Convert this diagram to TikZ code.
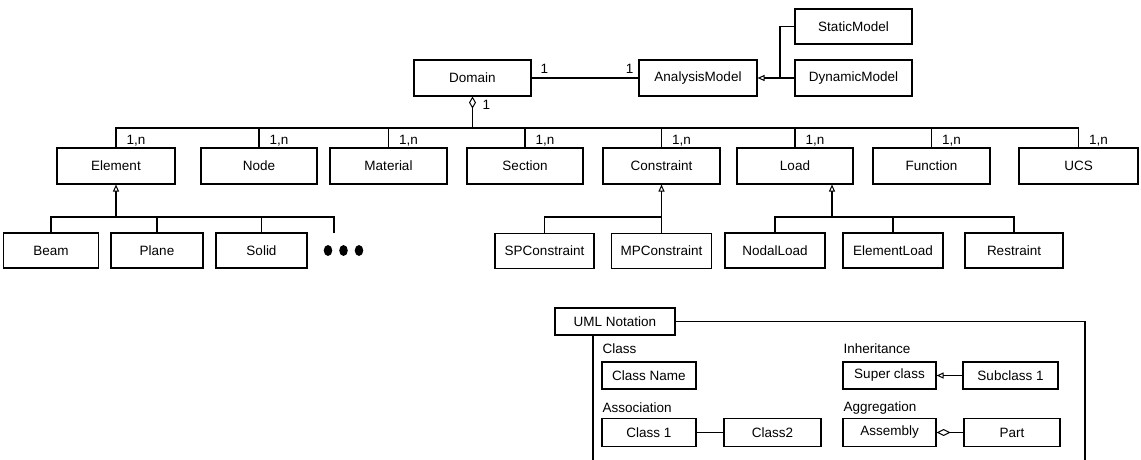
\documentclass[tikz,border=0pt]{standalone}
\usepackage{fontspec}
\setmainfont{Liberation Sans}
\usetikzlibrary{arrows.meta}
\begin{document}
\begin{tikzpicture}[x=1pt,y=-1pt,line width=1.1pt,
  cls/.style={draw,rectangle,inner sep=0pt,minimum height=36pt,font=\fontsize{13.5}{16}\selectfont},
  sub/.style={cls,minimum height=35pt},
  lbl/.style={inner sep=0pt,font=\fontsize{13.5}{16}\selectfont},
  inh/.style={-{Triangle[open,length=7pt,width=6pt,line width=1pt]}},
  agg/.style={-{Diamond[open,length=12pt,width=7pt,line width=1pt]}},
  aggh/.style={-{Diamond[open,length=14pt,width=7pt,line width=1pt]}}]
\useasboundingbox (0,0) rectangle (1141,460);
% top
\node[cls,minimum width=117pt] (Domain) at (472.5,78) {Domain};
\node[cls,minimum width=118pt] (AM) at (698,78) {AnalysisModel};
\node[cls,minimum width=117pt,minimum height=35pt] (SM) at (853.5,26.5) {StaticModel};
\node[cls,minimum width=117pt] (DM) at (853.5,78) {DynamicModel};
\draw (Domain.east) -- (AM.west);
\node[lbl,anchor=west] (d1) at (540,69) {1};
\node[lbl,anchor=east] (a1) at (634,69) {1};
\coordinate (aJ) at (780,78);
\draw[inh] (aJ) -- (AM.east);
\draw (SM.west) -| (aJ);
\draw (DM.west) -- (aJ);
% row
\node[cls,minimum width=118pt] (Element) at (116,166) {Element};
\node[cls,minimum width=116pt] (Node) at (259,166) {Node};
\node[cls,minimum width=117pt] (Material) at (388.5,166) {Material};
\node[cls,minimum width=116pt] (Section) at (525,166) {Section};
\node[cls,minimum width=117pt] (Constraint) at (661.5,166) {Constraint};
\node[cls,minimum width=116pt] (Load) at (795,166) {Load};
\node[cls,minimum width=117pt] (Function) at (931.5,166) {Function};
\node[cls,minimum width=119pt] (UCS) at (1078.5,166) {UCS};
\coordinate (dJ) at (472.5,128);
\draw[agg] (dJ) -- (Domain.south);
\node[lbl,anchor=west] (dn) at (482,105) {1};
\foreach \n in {Element,Node,Material,Section,Constraint,Load,Function,UCS}{
  \draw (\n.north) |- (dJ);
  \node[lbl,anchor=west] at ([xshift=10pt,yshift=7pt]\n.north) {1,n};
}
% element subclasses
\node[sub,minimum width=95pt] (Beam) at (51,250.5) {Beam};
\node[sub,minimum width=92pt] (Plane) at (157,250.5) {Plane};
\node[sub,minimum width=91pt] (Solid) at (261.5,250.5) {Solid};
\coordinate (eJ) at (116,217);
\coordinate (more) at (334,233);
\draw[inh] (eJ) -- (Element.south);
\draw (Beam.north) |- (eJ);
\draw (Plane.north) |- (eJ);
\draw (Solid.north) |- (eJ);
\draw (more) |- (eJ);
\foreach \x in {328,343.5,359}{\fill (\x,250.5) ellipse (4.3pt and 5.5pt);}
% constraint subclasses
\node[sub,minimum width=99pt] (SPC) at (544.5,251) {SPConstraint};
\node[sub,minimum width=100pt] (MPC) at (661.5,251) {MPConstraint};
\coordinate (cJ) at (661.5,217);
\draw[inh] (cJ) -- (Constraint.south);
\draw (SPC.north) |- (cJ);
\draw (MPC.north) -- (cJ);
% load subclasses
\node[sub,minimum width=100pt] (NL) at (775,250.5) {NodalLoad};
\node[sub,minimum width=100pt] (EL) at (893,250.5) {ElementLoad};
\node[sub,minimum width=98pt] (RS) at (1014,250.5) {Restraint};
\coordinate (lJ) at (832,217);
\draw[inh] (lJ) -- (lJ |- Load.south);
\draw (NL.north) |- (lJ);
\draw (EL.north) |- (lJ);
\draw (RS.north) |- (lJ);
% UML notation
\node[cls,minimum width=120pt,minimum height=27pt] (uml) at (615,321.5) {UML Notation};
\coordinate (frTR) at (1085,321.5);
\coordinate (frBR) at (1085,462);
\coordinate (frTL) at (593,335);
\coordinate (frBL) at (593,462);
\draw (uml.east) -- (frTR) -- (frBR);
\draw (frTL) -- (frBL);
\node[lbl,anchor=west] (tClass) at (602,349) {Class};
\node[cls,minimum width=94pt,minimum height=27pt] (CN) at (649,375.5) {Class Name};
\node[lbl,anchor=west] (tAssoc) at (602,408) {Association};
\node[cls,minimum width=94pt,minimum height=28pt] (C1) at (649,432.5) {Class 1};
\node[cls,minimum width=97pt,minimum height=28pt] (C2) at (772.5,432.5) {Class2};
\draw (C1.east) -- (C2.west);
\node[lbl,anchor=west] (tInh) at (843,349) {Inheritance};
\node[cls,minimum width=93pt,minimum height=27pt] (Sup) at (889.5,375.5) {Super class};
\node[cls,minimum width=95pt,minimum height=27pt] (Sub1) at (1010.5,375.5) {Subclass 1};
\draw[inh] (Sub1.west) -- (Sup.east);
\node[lbl,anchor=west] (tAgg) at (843,408) {Aggregation};
\node[cls,minimum width=93pt,minimum height=28pt] (Asm) at (889.5,432.5) {Assembly};
\node[cls,minimum width=96pt,minimum height=28pt] (Part) at (1012,432.5) {Part};
\draw[aggh] (Part.west) -- (Asm.east);
\end{tikzpicture}
\end{document}
